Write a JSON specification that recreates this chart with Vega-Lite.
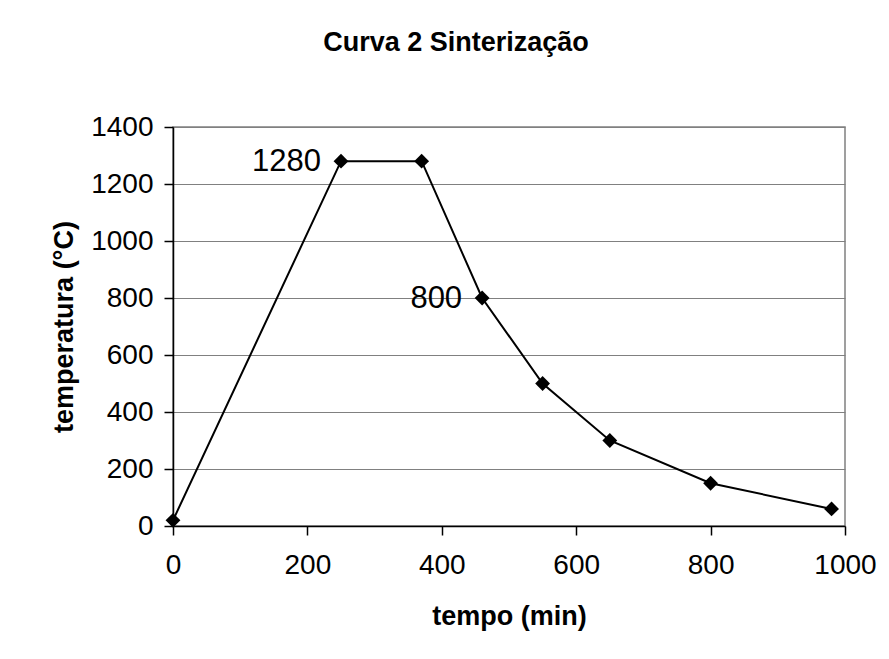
{
  "$schema": "https://vega.github.io/schema/vega-lite/v6.json",
  "width": 672,
  "height": 399,
  "autosize": {"type": "none"},
  "padding": {"left": 173, "top": 127, "right": 44, "bottom": 133},
  "background": "white",
  "title": {
    "text": "Curva 2 Sinterização",
    "font": "Liberation Sans",
    "fontSize": 27,
    "fontWeight": "bold",
    "color": "black",
    "anchor": "middle",
    "frame": "group",
    "dx": -53,
    "offset": 56
  },
  "config": {
    "view": {"stroke": "#808080", "strokeWidth": 1.5},
    "font": "Liberation Sans",
    "axis": {
      "labelFont": "Liberation Sans",
      "labelFontSize": 28,
      "labelColor": "black",
      "labelFlush": false,
      "titleFont": "Liberation Sans",
      "titleFontSize": 27,
      "titleFontWeight": "bold",
      "titleColor": "black",
      "domainColor": "black",
      "domainWidth": 1.5,
      "tickColor": "black",
      "tickWidth": 1.5,
      "tickSize": 9,
      "gridColor": "#808080",
      "gridWidth": 1,
      "gridOpacity": 1
    }
  },
  "data": {
    "values": [
      {"tempo": 0, "temperatura": 20, "label": ""},
      {"tempo": 250, "temperatura": 1280, "label": "1280"},
      {"tempo": 370, "temperatura": 1280, "label": ""},
      {"tempo": 460, "temperatura": 800, "label": "800"},
      {"tempo": 550, "temperatura": 500, "label": ""},
      {"tempo": 650, "temperatura": 300, "label": ""},
      {"tempo": 800, "temperatura": 150, "label": ""},
      {"tempo": 980, "temperatura": 60, "label": ""}
    ]
  },
  "encoding": {
    "x": {
      "field": "tempo",
      "type": "quantitative",
      "scale": {"domain": [0, 1000], "nice": false, "zero": true},
      "axis": {
        "title": "tempo (min)",
        "format": "d",
        "values": [0, 200, 400, 600, 800, 1000],
        "grid": false,
        "labelPadding": 16,
        "titlePadding": 24
      }
    },
    "y": {
      "field": "temperatura",
      "type": "quantitative",
      "scale": {"domain": [0, 1400], "nice": false},
      "axis": {
        "title": "temperatura (°C)",
        "format": "d",
        "values": [0, 200, 400, 600, 800, 1000, 1200, 1400],
        "grid": true,
        "labelPadding": 11,
        "titlePadding": 12
      }
    }
  },
  "layer": [
    {
      "mark": {"type": "line", "color": "black", "strokeWidth": 2}
    },
    {
      "mark": {"type": "point", "shape": "diamond", "filled": true, "color": "black", "opacity": 1, "size": 220}
    },
    {
      "transform": [{"filter": "datum.label != ''"}],
      "mark": {"type": "text", "align": "right", "baseline": "middle", "dx": -20, "dy": 1, "fontSize": 31, "font": "Liberation Sans", "color": "black"},
      "encoding": {"text": {"field": "label", "type": "nominal"}}
    }
  ]
}
